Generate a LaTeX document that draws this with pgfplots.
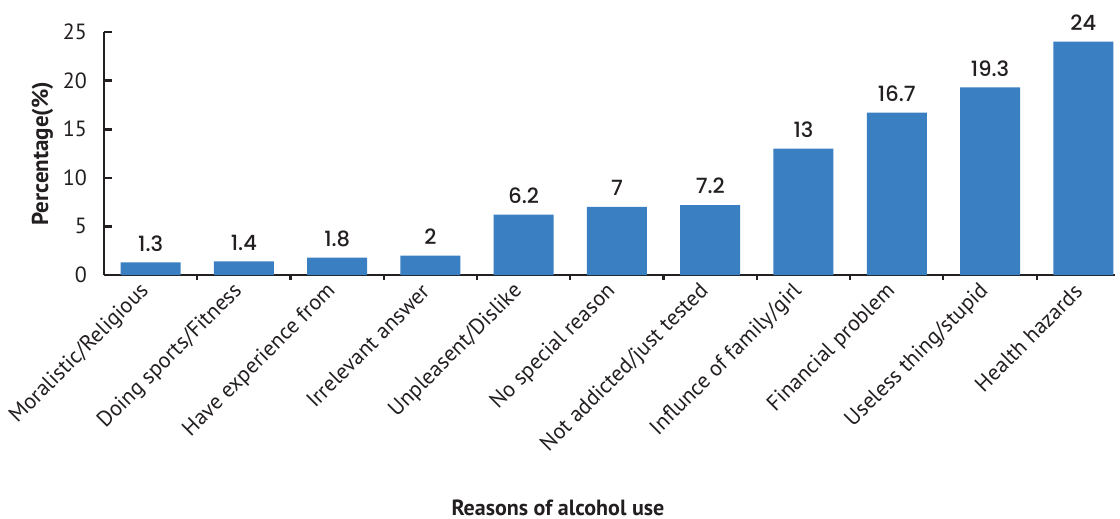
\documentclass[border=0pt]{standalone}
\usepackage{fontspec}
\setmainfont{PT Sans}
\newfontfamily\valfont{Poppins}[UprightFont={* Medium}]
\usepackage{pgfplots}
\pgfplotsset{compat=1.18}
\definecolor{barblue}{RGB}{58,127,194}
\definecolor{axgray}{RGB}{35,31,32}
\begin{document}
\begin{tikzpicture}
\begin{axis}[
  at={(0,0)}, anchor=south west,
  scale only axis, width=505.5pt, height=121.5pt,
  xmin=-0.5, xmax=10.34, ymin=0, ymax=25,
  axis x line*=bottom, axis y line*=left,
  axis line style={axgray, line width=1.3pt},
  /pgf/number format/assume math mode=true,
  tick align=inside,
  ytick={0,5,10,15,20,25},
  major tick length=4pt,
  minor tick length=2.4pt,
  major y tick style={axgray, line width=1.3pt},
  major x tick style={draw=none},
  minor x tick style={axgray, line width=1.1pt},
  xtick={0,...,10},
  minor xtick={0.5,1.5,...,9.5},
  xticklabels={Moralistic/Religious, Doing sports/Fitness, Have experience from, Irrelevant answer, Unpleasent/Dislike, No special reason, Not addicted/just tested, Influnce of family/girl, Financial problem, Useless thing/stupid, Health hazards},
  xticklabel style={rotate=45, anchor=east, font=\fontsize{11}{12}\selectfont, text=axgray},
  yticklabel style={font=\fontsize{11}{12}\selectfont, text=axgray, xshift=-5pt},
  ylabel={Percentage(\%)},
  ylabel style={at={(axis description cs:-0.061,0.5)}, anchor=center, font=\bfseries\fontsize{11.5}{13}\selectfont, text=axgray},
  xlabel={Reasons of alcohol use},
  xlabel style={at={(axis description cs:0.449,-0.959)}, anchor=center, font=\bfseries\fontsize{11}{13}\selectfont, text=axgray},
  ybar, bar width=30pt,
  nodes near coords,
  every node near coord/.append style={font=\valfont\fontsize{10.5}{12}\selectfont, text=axgray, anchor=south, yshift=2pt},
  clip=false,
]
\addplot[fill=barblue, draw=none] coordinates {
 (0,1.3) (1,1.4) (2,1.8) (3,2) (4,6.2) (5,7) (6,7.2) (7,13) (8,16.7) (9,19.3) (10,24)
};
\end{axis}
\pgfresetboundingbox
\path (-52pt,-122pt) rectangle (508pt,137.5pt);
\end{tikzpicture}
\end{document}
